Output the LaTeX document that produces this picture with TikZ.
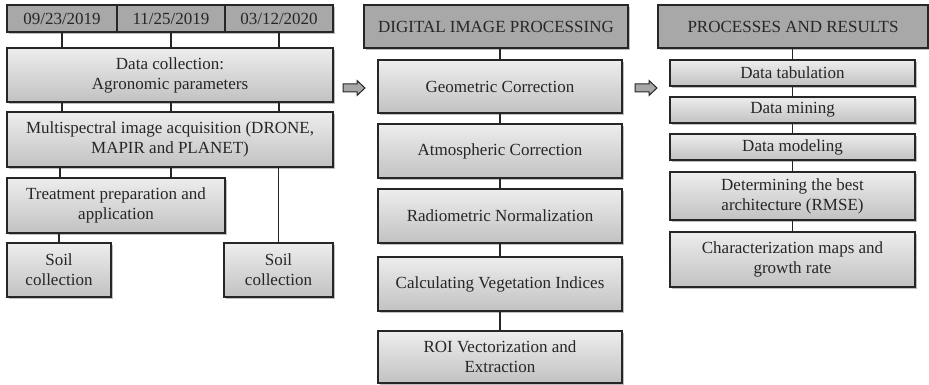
\documentclass[tikz,border=0pt]{standalone}
\usepackage{fontspec}
\setmainfont{Liberation Serif}
\usetikzlibrary{shadows,calc}
\definecolor{hdr}{HTML}{A8A8A8}
\definecolor{edge}{HTML}{262626}
\tikzset{
  base/.style={rectangle, draw=edge, line width=1.3pt, align=center, inner sep=2pt,
    font=\fontsize{17}{20}\selectfont, text=black!85,
    drop shadow={shadow xshift=1.5pt, shadow yshift=-1.8pt, opacity=0.25, fill=black}},
  hbox/.style={base, fill=hdr},
  cbox/.style={base, top color=white!93!black, bottom color=white!76!black},
  link/.style={draw=edge, line width=1.2pt},
  garrow/.style={draw=edge, fill=hdr, line width=1pt, line join=miter}
}
\newcommand{\blockarrow}[1]{%
  \draw[garrow] ($(#1)+(-11,-4)$) -- ($(#1)+(3,-4)$) -- ($(#1)+(3,-7.5)$) -- ($(#1)+(11,0)$)
   -- ($(#1)+(3,7.5)$) -- ($(#1)+(3,4)$) -- ($(#1)+(-11,4)$) -- cycle;}
\begin{document}
\begin{tikzpicture}[x=1pt,y=-1pt]
\useasboundingbox (0,0) rectangle (929,385);
% left column
\node[hbox, minimum width=110pt, minimum height=27pt] (d1) at (62,18.5) {09/23/2019};
\node[hbox, minimum width=108pt, minimum height=27pt] (d2) at (171,18.5) {11/25/2019};
\node[hbox, minimum width=108pt, minimum height=27pt] (d3) at (279,18.5) {03/12/2020};
\node[cbox, minimum width=326pt, minimum height=54pt] (dc) at (170,75) {Data collection:\\Agronomic parameters};
\node[cbox, minimum width=326pt, minimum height=55pt] (ms) at (170,139.5) {Multispectral image acquisition (DRONE,\\MAPIR and PLANET)};
\node[cbox, minimum width=218pt, minimum height=55pt] (tr) at (116,205.5) {Treatment preparation and\\application};
\node[cbox, minimum width=104pt, minimum height=54pt] (s1) at (59,270) {Soil\\collection};
\node[cbox, minimum width=109pt, minimum height=54pt] (s2) at (278.5,270) {Soil\\collection};
\draw[link] (d1.south) -- (d1.south |- dc.north);
\draw[link] (d2.south) -- (d2.south |- dc.north);
\draw[link] (d3.south) -- (d3.south |- dc.north);
\draw[link] (d1.south |- dc.south) -- (d1.south |- ms.north);
\draw[link] (d2.south |- dc.south) -- (d2.south |- ms.north);
\draw[link] (d3.south |- dc.south) -- (d3.south |- ms.north);
\draw[link] ($(d1.south |- ms.south)+(-2,0)$) -- ($(d1.south |- tr.north)+(-2,0)$);
\draw[link] (d2.south |- ms.south) -- (d2.south |- tr.north);
\draw[link] (s2.north |- ms.south) -- (s2.north);
\draw[link] (s1.north |- tr.south) -- (s1.north);
% arrows
\coordinate (a1) at (354,88);
\coordinate (a2) at (646,88);
\blockarrow{a1}
\blockarrow{a2}
% middle column
\node[hbox, minimum width=264pt, minimum height=43pt] (dip) at (496,26.5) {DIGITAL IMAGE PROCESSING};
\node[cbox, minimum width=244pt, minimum height=53pt] (g1) at (500,86.5) {Geometric Correction};
\node[cbox, minimum width=244pt, minimum height=54pt] (g2) at (500,151) {Atmospheric Correction};
\node[cbox, minimum width=244pt, minimum height=54pt] (g3) at (500,216) {Radiometric Normalization};
\node[cbox, minimum width=244pt, minimum height=54pt] (g4) at (500,284) {Calculating Vegetation Indices};
\node[cbox, minimum width=244pt, minimum height=52pt] (g5) at (500,357) {ROI Vectorization and\\Extraction};
\draw[link] (g1.north |- dip.south) -- (g1.north);
\draw[link] (g1.south) -- (g2.north);
\draw[link] (g2.south) -- (g3.north);
\draw[link] (g3.south) -- (g4.north);
\draw[link] (g4.south) -- (g5.north);
% right column
\node[hbox, minimum width=270pt, minimum height=43pt] (pr) at (793,26.5) {PROCESSES AND RESULTS};
\node[cbox, minimum width=245pt, minimum height=26pt] (r1) at (792.5,73) {Data tabulation};
\node[cbox, minimum width=245pt, minimum height=26pt] (r2) at (792.5,110) {Data mining};
\node[cbox, minimum width=245pt, minimum height=26pt] (r3) at (792.5,147) {Data modeling};
\node[cbox, minimum width=245pt, minimum height=48pt] (r4) at (792.5,196) {Determining the best\\architecture (RMSE)};
\node[cbox, minimum width=245pt, minimum height=55pt] (r5) at (792.5,259.5) {Characterization maps and\\growth rate};
\draw[link] (r1.north |- pr.south) -- (r1.north);
\draw[link] (r1.south) -- (r2.north);
\draw[link] (r2.south) -- (r3.north);
\draw[link] (r3.south) -- (r4.north);
\draw[link] (r4.south) -- (r5.north);
\end{tikzpicture}
\end{document}
